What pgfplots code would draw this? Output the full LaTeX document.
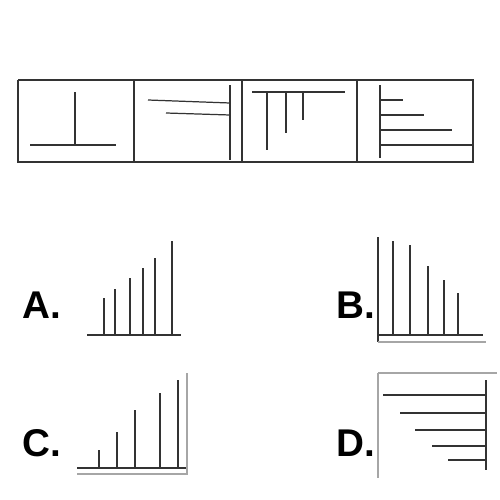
\documentclass[border=0pt]{standalone}
\usepackage{pgfplots}
\pgfplotsset{compat=1.18}
\usepackage{fontspec}
\setmainfont{Liberation Sans}
\begin{document}
\begin{tikzpicture}
\begin{axis}[width=10cm,height=10cm,scale only axis,hide axis,xmin=0,xmax=500,ymin=0,ymax=500,y dir=reverse,clip=false,
  ln/.style={solid,line width=0.7pt,color=black!80,mark=none},
  lg/.style={solid,line width=0.7pt,color=black!35,mark=none}]
\addplot[draw=none] coordinates {(0,0)(500,500)};
% top strip
\addplot[ln] coordinates {(18,80)(473,80)(473,162)(18,162)(18,80)};
\addplot[ln] coordinates {(134,80)(134,162)};
\addplot[ln] coordinates {(242,80)(242,162)};
\addplot[ln] coordinates {(357,80)(357,162)};
% panel 1
\addplot[ln] coordinates {(75,92)(75,145)};
\addplot[ln] coordinates {(30,145)(116,145)};
% panel 2
\addplot[ln] coordinates {(230,85)(230,160)};
\addplot[ln] coordinates {(148,100)(230,103)};
\addplot[ln] coordinates {(166,113)(230,115)};
% panel 3
\addplot[ln] coordinates {(252,92)(345,92)};
\addplot[ln] coordinates {(267,92)(267,150)};
\addplot[ln] coordinates {(286,92)(286,133)};
\addplot[ln] coordinates {(303,92)(303,120)};
% panel 4
\addplot[ln] coordinates {(380,85)(380,158)};
\addplot[ln] coordinates {(380,100)(403,100)};
\addplot[ln] coordinates {(380,115)(424,115)};
\addplot[ln] coordinates {(380,130)(452,130)};
\addplot[ln] coordinates {(380,145)(473,145)};
% A
\addplot[ln] coordinates {(87,335)(181,335)};
\addplot[ln] coordinates {(104,335)(104,298)};
\addplot[ln] coordinates {(115,335)(115,289)};
\addplot[ln] coordinates {(130,335)(130,278)};
\addplot[ln] coordinates {(143,335)(143,268)};
\addplot[ln] coordinates {(155,335)(155,258)};
\addplot[ln] coordinates {(172,335)(172,241)};
% B
\addplot[ln] coordinates {(378,237)(378,342)};
\addplot[ln] coordinates {(378,335)(483,335)};
\addplot[lg] coordinates {(378,342)(486,342)};
\addplot[ln] coordinates {(393,335)(393,241)};
\addplot[ln] coordinates {(410,335)(410,245)};
\addplot[ln] coordinates {(428,335)(428,266)};
\addplot[ln] coordinates {(444,335)(444,280)};
\addplot[ln] coordinates {(458,335)(458,293)};
% C
\addplot[ln] coordinates {(77,468)(187,468)};
\addplot[lg] coordinates {(77,474)(187,474)};
\addplot[lg] coordinates {(187,373)(187,475)};
\addplot[ln] coordinates {(99,468)(99,450)};
\addplot[ln] coordinates {(117,468)(117,432)};
\addplot[ln] coordinates {(135,468)(135,410)};
\addplot[ln] coordinates {(160,468)(160,393)};
\addplot[ln] coordinates {(178,468)(178,380)};
% D
\addplot[lg] coordinates {(378,373)(497,373)};
\addplot[lg] coordinates {(378,373)(378,478)};
\addplot[ln] coordinates {(486,380)(486,470)};
\addplot[ln] coordinates {(383,395)(486,395)};
\addplot[ln] coordinates {(400,413)(486,413)};
\addplot[ln] coordinates {(415,430)(486,430)};
\addplot[ln] coordinates {(432,446)(486,446)};
\addplot[ln] coordinates {(448,460)(486,460)};
% labels
\node[font=\fontsize{22}{22}\selectfont\bfseries] at (axis cs:42,305) {A.};
\node[font=\fontsize{22}{22}\selectfont\bfseries] at (axis cs:356,305) {B.};
\node[font=\fontsize{22}{22}\selectfont\bfseries] at (axis cs:42,443) {C.};
\node[font=\fontsize{22}{22}\selectfont\bfseries] at (axis cs:356,443) {D.};
\end{axis}
\end{tikzpicture}
\end{document}
